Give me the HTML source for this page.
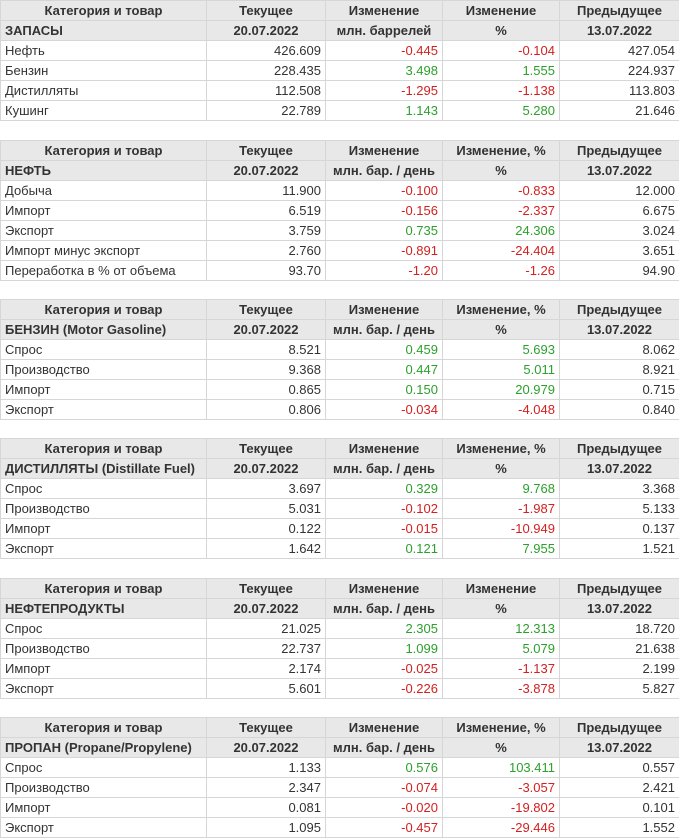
<!DOCTYPE html>
<html><head><meta charset="utf-8"><style>
body{margin:0;background:#fff;font-family:"Liberation Sans",Arial,sans-serif;font-size:13px;color:#333;}
.t{position:absolute;left:0;width:679px;border-collapse:collapse;table-layout:fixed;}
.t td{height:19px;padding:0 4px;border:1px solid #d6d6d6;white-space:nowrap;overflow:hidden;line-height:19px;text-align:right;}
.t td:first-child{text-align:left;}
.t tr.h td{background:#e8e8e8;font-weight:bold;text-align:center;color:#333;}
.t tr.h2 td{background:#e8e8e8;font-weight:bold;text-align:center;}
.t tr.h2 td:first-child{text-align:left;}
.r{color:#d42020;}.g{color:#2ca02c;}
col.a{width:206px}col.b{width:119px}col.c{width:117px}col.d{width:117px}col.e{width:120px}
</style></head><body>

<table class="t" style="top:0">
<colgroup><col class="a"><col class="b"><col class="c"><col class="d"><col class="e"></colgroup>
<tr class="h"><td>Категория и товар</td><td>Текущее</td><td>Изменение</td><td>Изменение</td><td>Предыдущее</td></tr>
<tr class="h2"><td>ЗАПАСЫ</td><td>20.07.2022</td><td>млн. баррелей</td><td>%</td><td>13.07.2022</td></tr>
<tr><td>Нефть</td><td>426.609</td><td class="r">-0.445</td><td class="r">-0.104</td><td>427.054</td></tr>
<tr><td>Бензин</td><td>228.435</td><td class="g">3.498</td><td class="g">1.555</td><td>224.937</td></tr>
<tr><td>Дистилляты</td><td>112.508</td><td class="r">-1.295</td><td class="r">-1.138</td><td>113.803</td></tr>
<tr><td>Кушинг</td><td>22.789</td><td class="g">1.143</td><td class="g">5.280</td><td>21.646</td></tr>
</table>

<table class="t" style="top:140px">
<colgroup><col class="a"><col class="b"><col class="c"><col class="d"><col class="e"></colgroup>
<tr class="h"><td>Категория и товар</td><td>Текущее</td><td>Изменение</td><td>Изменение, %</td><td>Предыдущее</td></tr>
<tr class="h2"><td>НЕФТЬ</td><td>20.07.2022</td><td>млн. бар. / день</td><td>%</td><td>13.07.2022</td></tr>
<tr><td>Добыча</td><td>11.900</td><td class="r">-0.100</td><td class="r">-0.833</td><td>12.000</td></tr>
<tr><td>Импорт</td><td>6.519</td><td class="r">-0.156</td><td class="r">-2.337</td><td>6.675</td></tr>
<tr><td>Экспорт</td><td>3.759</td><td class="g">0.735</td><td class="g">24.306</td><td>3.024</td></tr>
<tr><td>Импорт минус экспорт</td><td>2.760</td><td class="r">-0.891</td><td class="r">-24.404</td><td>3.651</td></tr>
<tr><td>Переработка в % от объема</td><td>93.70</td><td class="r">-1.20</td><td class="r">-1.26</td><td>94.90</td></tr>
</table>

<table class="t" style="top:299px">
<colgroup><col class="a"><col class="b"><col class="c"><col class="d"><col class="e"></colgroup>
<tr class="h"><td>Категория и товар</td><td>Текущее</td><td>Изменение</td><td>Изменение, %</td><td>Предыдущее</td></tr>
<tr class="h2"><td>БЕНЗИН (Motor Gasoline)</td><td>20.07.2022</td><td>млн. бар. / день</td><td>%</td><td>13.07.2022</td></tr>
<tr><td>Спрос</td><td>8.521</td><td class="g">0.459</td><td class="g">5.693</td><td>8.062</td></tr>
<tr><td>Производство</td><td>9.368</td><td class="g">0.447</td><td class="g">5.011</td><td>8.921</td></tr>
<tr><td>Импорт</td><td>0.865</td><td class="g">0.150</td><td class="g">20.979</td><td>0.715</td></tr>
<tr><td>Экспорт</td><td>0.806</td><td class="r">-0.034</td><td class="r">-4.048</td><td>0.840</td></tr>
</table>

<table class="t" style="top:438px">
<colgroup><col class="a"><col class="b"><col class="c"><col class="d"><col class="e"></colgroup>
<tr class="h"><td>Категория и товар</td><td>Текущее</td><td>Изменение</td><td>Изменение, %</td><td>Предыдущее</td></tr>
<tr class="h2"><td>ДИСТИЛЛЯТЫ (Distillate Fuel)</td><td>20.07.2022</td><td>млн. бар. / день</td><td>%</td><td>13.07.2022</td></tr>
<tr><td>Спрос</td><td>3.697</td><td class="g">0.329</td><td class="g">9.768</td><td>3.368</td></tr>
<tr><td>Производство</td><td>5.031</td><td class="r">-0.102</td><td class="r">-1.987</td><td>5.133</td></tr>
<tr><td>Импорт</td><td>0.122</td><td class="r">-0.015</td><td class="r">-10.949</td><td>0.137</td></tr>
<tr><td>Экспорт</td><td>1.642</td><td class="g">0.121</td><td class="g">7.955</td><td>1.521</td></tr>
</table>

<table class="t" style="top:578px">
<colgroup><col class="a"><col class="b"><col class="c"><col class="d"><col class="e"></colgroup>
<tr class="h"><td>Категория и товар</td><td>Текущее</td><td>Изменение</td><td>Изменение</td><td>Предыдущее</td></tr>
<tr class="h2"><td>НЕФТЕПРОДУКТЫ</td><td>20.07.2022</td><td>млн. бар. / день</td><td>%</td><td>13.07.2022</td></tr>
<tr><td>Спрос</td><td>21.025</td><td class="g">2.305</td><td class="g">12.313</td><td>18.720</td></tr>
<tr><td>Производство</td><td>22.737</td><td class="g">1.099</td><td class="g">5.079</td><td>21.638</td></tr>
<tr><td>Импорт</td><td>2.174</td><td class="r">-0.025</td><td class="r">-1.137</td><td>2.199</td></tr>
<tr><td>Экспорт</td><td>5.601</td><td class="r">-0.226</td><td class="r">-3.878</td><td>5.827</td></tr>
</table>

<table class="t" style="top:717px">
<colgroup><col class="a"><col class="b"><col class="c"><col class="d"><col class="e"></colgroup>
<tr class="h"><td>Категория и товар</td><td>Текущее</td><td>Изменение</td><td>Изменение, %</td><td>Предыдущее</td></tr>
<tr class="h2"><td>ПРОПАН (Propane/Propylene)</td><td>20.07.2022</td><td>млн. бар. / день</td><td>%</td><td>13.07.2022</td></tr>
<tr><td>Спрос</td><td>1.133</td><td class="g">0.576</td><td class="g">103.411</td><td>0.557</td></tr>
<tr><td>Производство</td><td>2.347</td><td class="r">-0.074</td><td class="r">-3.057</td><td>2.421</td></tr>
<tr><td>Импорт</td><td>0.081</td><td class="r">-0.020</td><td class="r">-19.802</td><td>0.101</td></tr>
<tr><td>Экспорт</td><td>1.095</td><td class="r">-0.457</td><td class="r">-29.446</td><td>1.552</td></tr>
</table>
</body></html>
